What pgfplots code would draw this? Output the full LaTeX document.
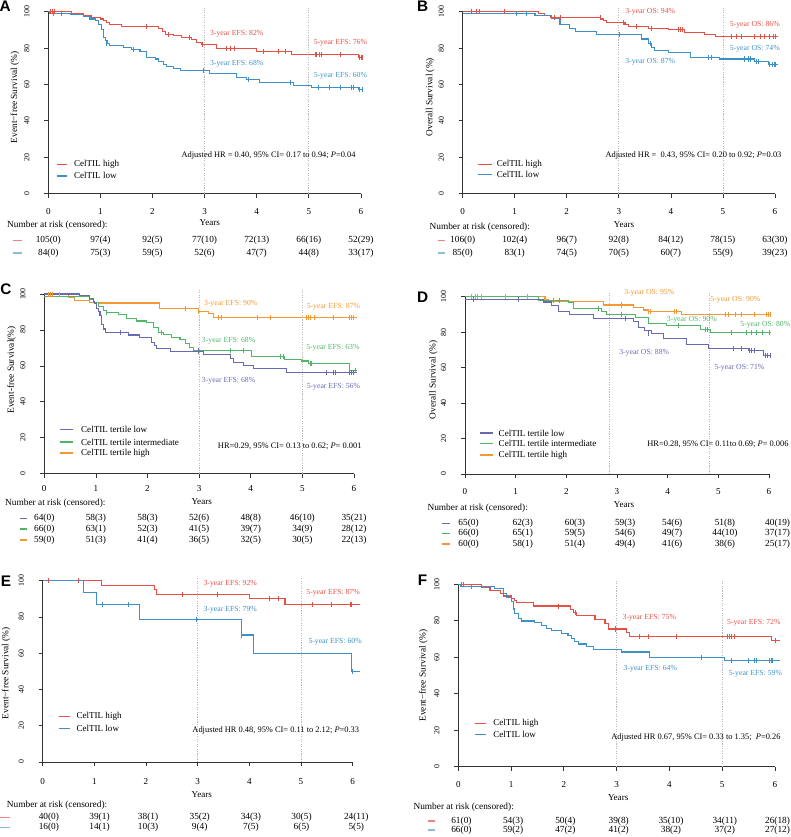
\documentclass[border=0pt]{standalone}
\usepackage{pgfplots}
\pgfplotsset{compat=1.18}
\usepackage{fontspec}
\setmainfont{Liberation Serif}
\newfontfamily\sansb{Liberation Sans}
\usetikzlibrary{calc}
\definecolor{kred}{RGB}{229,79,69}
\definecolor{kblue}{RGB}{62,145,198}
\definecolor{kpur}{RGB}{105,105,180}
\definecolor{kgreen}{RGB}{80,180,105}
\definecolor{korange}{RGB}{242,152,52}
\newcommand\ft[1]{\fontsize{#1}{#1}\selectfont}
\pgfplotsset{km/.style={
  scale only axis, anchor=south west, clip=false,
  xmin=0,xmax=6,ymin=0,ymax=100,
  axis x line*=bottom, axis y line*=left,
  axis line style={-, black!80, line width=0.5pt},
  xtick={0,...,6}, ytick={0,20,...,100},
  tick align=outside, major tick length=3pt, tick style={black!80, line width=0.5pt},
  /pgf/number format/assume math mode=true,
  xticklabel style={font=\ft{6.8}},
  yticklabel style={font=\ft{5.9}, rotate=90, anchor=south},
  every axis plot/.append style={line width=0.85pt},
}}
\tikzset{cens/.style={only marks, mark=|, mark size=1.9pt, mark options={line width=0.6pt}},
  ann/.style={font=\ft{5.8}, inner sep=0pt, anchor=west},
  hr/.style={font=\ft{6.3}, inner sep=0pt, anchor=east},
  leg/.style={font=\ft{6.8}, inner sep=0pt, anchor=west}}
\newcommand\riskrow[6]{%
  \draw[#3, line width=0.9pt] ($(#1.south west)+(#4pt,-#2pt)$) -- ++(#5pt,0);
  \foreach \x/\t in {#6}{\node[font=\ft{7}, inner sep=0pt] at ($(#1.south west)!\x/6!(#1.south east)+(0,-#2pt)$) {\t};}%
}
\newcommand\lgline[5]{\draw[draw=#2, line width=1.1pt] ($(#1.south west)+(#3pt,#5pt)$) -- ($(#1.south west)+(#4pt,#5pt)$);}
\newcommand\vlines[2]{%
  \addplot[gray!55, densely dotted, line width=0.5pt, forget plot] coordinates {(#1,0) (#1,102)};
  \addplot[gray!55, densely dotted, line width=0.5pt, forget plot] coordinates {(#2,0) (#2,102)};
}
\begin{document}
\begin{tikzpicture}
\path[use as bounding box] (0,0) rectangle (592.5pt,627.75pt);

% ---------------- Panel A
\begin{axis}[km, name=pA, at={(36.2pt,482.6pt)}, width=234.5pt, height=136.35pt, xticklabel shift=4.7pt, yticklabel shift=7.5pt]
\vlines{3}{5}
\addplot[kred, const plot] coordinates {(0,100) (0.45,99) (0.67,98) (0.83,97) (1.0,96) (1.06,95) (1.12,94) (1.18,93) (1.41,92) (2.11,91) (2.2,89) (2.25,87.5) (2.4,87) (2.56,86) (2.75,84.5) (2.85,83) (2.94,82) (3.23,80) (4.0,78) (4.67,76.5) (5.95,75) (6.04,75)};
\addplot[kred, cens] coordinates {(0.04,100)(0.08,100)(0.12,100)(1.89,92)(2.3,87.5)(2.7,86)(2.95,82)(3.42,80)(3.49,80)(3.58,80)(4.13,78)(4.41,78)(4.56,78)(5.12,76.5)(5.15,76.5)(5.2,76.5)(5.24,76.5)(5.6,76.5)(5.97,75)(6.0,75)(6.02,75)};
\addplot[kblue, const plot] coordinates {(0,100) (0.03,99) (0.42,98.5) (0.67,97.5) (0.8,96) (0.9,95) (0.96,93) (1.02,90) (1.06,86) (1.09,84) (1.13,82.5) (1.18,81.5) (1.44,80.5) (1.6,79) (1.76,78) (1.89,75) (2.05,74) (2.11,72.5) (2.21,71) (2.27,70) (2.4,69) (2.53,67.5) (3.1,66) (3.61,64) (3.81,62.5) (4.06,61) (4.7,59.5) (5.05,58.5) (5.95,57) (6.04,57)};
\addplot[kblue, cens] coordinates {(0.1,99)(0.26,99)(1.12,82.5)(1.63,79)(2.98,67.5)(3.84,62.5)(4.64,61)(5.18,58.5)(5.4,58.5)(5.6,58.5)(5.82,58.5)(5.85,58.5)(5.97,57)(6.02,57)};
\node[ann, kred] at (axis cs:3.1,88) {3-year EFS: 82\%};
\node[ann, kred] at (axis cs:5.09,83.1) {5-year EFS: 76\%};
\node[ann, kblue] at (axis cs:3.1,71.6) {3-year EFS: 68\%};
\node[ann, kblue] at (axis cs:5.09,64.6) {5-year EFS: 60\%};
\node[hr] at (axis cs:5.9,21.1) {Adjusted HR = 0.40, 95\% CI= 0.17 to 0.94; \textit{P}=0.04};
\node[leg] at (axis cs:0.49,16.1) {CelTIL high};
\node[leg] at (axis cs:0.49,9.7) {CelTIL low};
\node[rotate=90, font=\ft{7}] at ([xshift=-25pt]axis cs:0,53) {Event−free Survival (\%)};
\node[font=\ft{6.8}] at ([yshift=-22.1pt]axis cs:3.1,0) {Years};
\end{axis}
\lgline{pA}{kred}{6.25}{13.68}{21.95}
\lgline{pA}{kblue}{6.25}{13.68}{13.23}
\node[font=\ft{7}, inner sep=0pt, anchor=west] at ($(pA.south west)+(-31pt,-23.6pt)$) {Number at risk (censored):};
\riskrow{pA}{35.4}{kred!70}{-26.5}{6.8}{0/105(0),1/97(4),2/92(5),3/77(10),4/72(13),5/66(16),6/52(29)}
\riskrow{pA}{44.6}{kblue!60}{-26.5}{6.8}{0/84(0),1/75(3),2/59(5),3/52(6),4/47(7),5/44(8),6/33(17)}

% ---------------- Panel B
\begin{axis}[km, name=pB, at={(347.0pt,482.6pt)}, width=234.2pt, height=136.35pt, xticklabel shift=4.7pt, yticklabel shift=7.5pt]
\vlines{3}{5}
\addplot[kred, const plot] coordinates {(0,100) (1.45,99) (1.58,98) (1.68,97) (2.64,96) (2.7,95) (2.77,94) (3.12,93) (3.18,92) (3.57,91) (3.95,90) (4.27,88.6) (4.65,87.5) (4.85,86.5) (6.06,86.5)};
\addplot[kred, cens] coordinates {(0.17,100)(0.27,100)(0.33,100)(0.81,100)(1.77,97)(1.87,97)(2.64,97)(3.09,94)(3.34,92)(3.63,91)(4.14,90)(4.18,90)(4.22,90)(5.17,86.5)(5.26,86.5)(5.36,86.5)(5.61,86.5)(5.72,86.5)(5.8,86.5)(5.9,86.5)(5.97,86.5)(6.0,86.5)};
\addplot[kblue, const plot] coordinates {(0,99) (1.39,98) (1.71,96.5) (1.87,93) (2.06,91) (2.16,89) (2.57,87.5) (3.44,85) (3.57,82.5) (3.63,80.5) (3.69,78.5) (3.95,77.5) (4.37,75) (4.94,74) (5.61,72.5) (5.87,71) (6.06,71)};
\addplot[kblue, cens] coordinates {(1.04,99)(1.23,99)(3.02,87.5)(3.6,82.5)(4.72,75)(4.77,75)(5.42,74)(5.49,74)(5.52,74)(5.65,72.5)(5.68,72.5)(5.9,71)(5.95,71)(5.99,71)(6.01,71)};
\node[ann, kred] at (axis cs:3.12,100) {3-year OS: 94\%};
\node[ann, kred] at (axis cs:5.13,92.7) {5-year OS: 86\%};
\node[ann, kblue] at (axis cs:3.12,72.5) {3-year OS: 87\%};
\node[ann, kblue] at (axis cs:5.13,79.8) {5-year OS: 74\%};
\node[hr] at (axis cs:6.13,20.7) {Adjusted HR = \ 0.43, 95\% CI= 0.20 to 0.92; \textit{P}=0.03};
\node[leg] at (axis cs:0.65,16.1) {CelTIL high};
\node[leg] at (axis cs:0.65,10.4) {CelTIL low};
\node[rotate=90, font=\ft{7}] at ([xshift=-24.5pt]axis cs:0,53) {Overall Survival (\%)};
\node[font=\ft{6.8}] at ([yshift=-23.1pt]axis cs:3.1,0) {Years};
\end{axis}
\lgline{pB}{kred}{11.71}{21.86}{21.95}
\lgline{pB}{kblue}{11.71}{21.86}{14.18}
\node[font=\ft{7}, inner sep=0pt, anchor=west] at ($(pB.south west)+(-25pt,-25.6pt)$) {Number at risk (censored):};
\riskrow{pB}{35.4}{kred!70}{-18.5}{5.5}{0/106(0),1/102(4),2/96(7),3/92(8),4/84(12),5/78(15),6/63(30)}
\riskrow{pB}{44.6}{kblue!60}{-18.5}{5.5}{0/85(0),1/83(1),2/74(5),3/70(5),4/60(7),5/55(9),6/39(23)}

% ---------------- Panel C
\begin{axis}[km, name=pC, at={(33.2pt,272.6pt)}, width=232.3pt, height=134.6pt, xticklabel shift=2.2pt, yticklabel shift=7.5pt]
\vlines{3}{5}
\addplot[korange, const plot] coordinates {(0,100)(0.47,98)(0.59,96.5)(0.88,95.5)(1.08,95)(2.23,92)(2.98,90.5)(3.18,89)(3.28,86.8)(6.05,86.8)};
\addplot[korange, cens] coordinates {(0.08,100)(0.12,100)(0.15,100)(0.29,100)(2.73,92)(2.98,90.5)(3.37,86.8)(3.43,86.8)(4.13,86.8)(4.39,86.8)(5.08,86.8)(5.12,86.8)(5.15,86.8)(5.23,86.8)(5.6,86.8)(5.92,86.8)(5.95,86.8)(5.99,86.8)};
\addplot[kgreen, const plot] coordinates {(0,98.5)(0.88,97)(0.95,95.5)(1.05,93)(1.14,91)(1.21,89.5)(1.43,88.5)(1.6,86.4)(1.79,85)(1.98,84)(2.11,81.3)(2.21,78.5)(2.31,77.4)(2.47,76)(2.63,74.6)(2.73,72.4)(2.82,70)(2.89,68.5)(4.02,65)(4.66,63.4)(4.99,62.7)(5.12,61.2)(5.92,57.5)(6.05,57.5)};
\addplot[kgreen, cens] coordinates {(1.21,89.5)(2.27,78.5)(2.98,68.5)(3.6,68.5)(3.86,68.5)(4.57,65)(4.63,65)(5.15,61.2)(5.18,61.2)(6.02,57.5)};
\addplot[kpur, const plot] coordinates {(0,100)(0.69,99)(0.88,97.5)(0.95,96)(0.98,94.5)(1.01,92)(1.05,90.5)(1.08,88)(1.11,83)(1.14,80.5)(1.18,78.5)(1.63,77.2)(1.85,76)(2.08,72.8)(2.14,71.5)(2.18,69.6)(2.44,68)(3.08,66.4)(3.6,64.2)(3.66,62.1)(3.86,60.3)(4.05,58.4)(4.7,56.5)(6.05,56.5)};
\addplot[kpur, cens] coordinates {(1.47,78.5)(2.98,68)(5.47,56.5)(5.6,56.5)(5.63,56.5)(5.92,56.5)(5.95,56.5)(5.99,56.5)};
\node[ann, korange] at (axis cs:3.09,94.8) {3-year EFS: 90\%};
\node[ann, korange] at (axis cs:5.08,92.9) {5-year EFS: 87\%};
\node[ann, kgreen] at (axis cs:3.05,73.9) {3-year EFS: 68\%};
\node[ann, kgreen] at (axis cs:5.07,70.1) {5-year EFS: 63\%};
\node[ann, kpur] at (axis cs:3.05,51.9) {3-year EFS: 68\%};
\node[ann, kpur] at (axis cs:5.08,48.5) {5-year EFS: 56\%};
\node[hr] at (axis cs:6.15,14.9) {HR=0.29, 95\% CI= 0.13 to 0.62; \textit{P}= 0.001};
\node[leg] at (axis cs:0.71,24.6) {CelTIL tertile low};
\node[leg] at (axis cs:0.71,17.5) {CelTIL tertile intermediate};
\node[leg] at (axis cs:0.71,11.4) {CelTIL tertile high};
\node[rotate=90, font=\ft{7}] at ([xshift=-24.5pt]axis cs:0,57.7) {Event-free Survival(\%)};
\node[font=\ft{6.8}] at ([yshift=-21.1pt]axis cs:3.05,0) {Years};
\end{axis}
\lgline{pC}{kpur}{11.62}{21.3}{33.11}
\lgline{pC}{kgreen}{11.62}{21.3}{23.56}
\lgline{pC}{korange}{11.62}{21.3}{15.34}
\node[font=\ft{7}, inner sep=0pt, anchor=west] at ($(pC.south west)+(-29.5pt,-22.4pt)$) {Number at risk (censored):};
\riskrow{pC}{33.6}{kpur}{-18.2}{5}{0/64(0),1/58(3),2/58(3),3/52(6),4/48(8),5/46(10),6/35(21)}
\riskrow{pC}{41.6}{kgreen}{-18.2}{5}{0/66(0),1/63(1),2/52(3),3/41(5),4/39(7),5/34(9),6/28(12)}
\riskrow{pC}{49.9}{korange}{-18.2}{5}{0/59(0),1/51(3),2/41(4),3/36(5),4/32(5),5/30(5),6/22(13)}

% ---------------- Panel D
\begin{axis}[km, name=pD, at={(348.75pt,272.25pt)}, width=228pt, height=133pt, xticklabel shift=4.3pt, yticklabel shift=7.5pt]
\vlines{2.84}{4.82}
\addplot[korange, const plot] coordinates {(0,100)(1.58,98.5)(1.64,97.2)(2.73,95.3)(3.32,94)(3.52,92.5)(3.62,91.4)(4.28,90)(6.03,90)};
\addplot[korange, cens] coordinates {(0.13,100)(0.2,100)(0.25,100)(0.32,100)(0.79,100)(1.24,100)(3.09,95.3)(3.62,91.4)(3.65,91.4)(4.14,91.4)(4.18,91.4)(5.13,90)(5.2,90)(5.33,90)(5.46,90)(5.72,90)(5.95,90)(5.99,90)(6.03,90)};
\addplot[kgreen, const plot] coordinates {(0,100)(1.45,98)(2.04,96.5)(2.14,93.5)(2.7,91.8)(2.8,90)(3.36,88.4)(3.62,85)(3.98,83.7)(4.64,81.6)(4.84,79.8)(6.03,79.8)};
\addplot[kgreen, cens] coordinates {(1.74,98)(1.87,98)(2.63,93.5)(3.09,90)(4.21,83.7)(4.74,81.6)(4.78,81.6)(5.26,79.8)(5.56,79.8)(5.66,79.8)(5.76,79.8)(5.86,79.8)(6.0,79.8)};
\addplot[kpur, const plot] coordinates {(0,98.5)(1.55,97)(1.71,95)(1.84,91.5)(2.07,89.7)(2.53,87.5)(3.32,86)(3.42,82.8)(3.55,81)(3.68,79)(3.91,76.5)(4.38,72.8)(4.8,70.9)(5.59,69.5)(5.89,66.8)(6.03,66.8)};
\addplot[kpur, cens] coordinates {(0.16,98.5)(1.05,98.5)(3.16,87.5)(3.62,79)(5.3,70.9)(5.46,70.9)(5.62,69.5)(5.66,69.5)(5.72,69.5)(5.92,66.8)(5.97,66.8)(6.03,66.8)};
\node[ann, korange] at (axis cs:3.14,102.4) {3-year OS: 95\%};
\node[ann, korange] at (axis cs:4.84,98.5) {5-year OS: 90\%};
\node[ann, kgreen] at (axis cs:3.98,87.2) {3-year OS: 90\%};
\node[ann, kgreen] at (axis cs:5.43,84.4) {5-year OS: 80\%};
\node[ann, kpur] at (axis cs:3.04,68.5) {3-year OS: 88\%};
\node[ann, kpur] at (axis cs:4.92,60) {5-year OS: 71\%};
\node[hr] at (axis cs:6.39,16.9) {HR=0.28, 95\% CI= 0.11to 0.69; \textit{P}= 0.006};
\node[leg] at (axis cs:0.66,23.1) {CelTIL tertile low};
\node[leg] at (axis cs:0.66,17.1) {CelTIL tertile intermediate};
\node[leg] at (axis cs:0.66,10.7) {CelTIL tertile high};
\node[rotate=90, font=\ft{7}] at ([xshift=-23.8pt]axis cs:0,53) {Overall Survival (\%)};
\node[font=\ft{6.8}] at ([yshift=-23.25pt]axis cs:3.14,0) {Years};
\end{axis}
\lgline{pD}{kpur}{11.4}{21.28}{30.72}
\lgline{pD}{kgreen}{11.4}{21.28}{22.74}
\lgline{pD}{korange}{11.4}{21.28}{14.23}
\node[font=\ft{7}, inner sep=0pt, anchor=west] at ($(pD.south west)+(-28.3pt,-25.7pt)$) {Number at risk (censored):};
\riskrow{pD}{37}{kpur}{-17.5}{6.2}{0.07/65(0),1.14/62(3),2.17/60(3),3.16/59(3),4.09/54(6),5.13/51(8),6.17/40(19)}
\riskrow{pD}{44.5}{kgreen}{-17.5}{6.2}{0.07/66(0),1.14/65(1),2.17/59(5),3.16/54(6),4.09/49(7),5.13/44(10),6.17/37(17)}
\riskrow{pD}{52.5}{korange}{-17.5}{6.2}{0.07/60(0),1.14/58(1),2.17/51(4),3.16/49(4),4.09/41(6),5.13/38(6),6.17/25(17)}

% ---------------- Panel E
\begin{axis}[km, name=pE, at={(32pt,56.25pt)}, width=232.5pt, height=136pt, xticklabel shift=5.8pt, yticklabel shift=7.5pt]
\vlines{3}{5}
\addplot[kred, const plot] coordinates {(0,100)(1.14,97.5)(2.17,95)(2.21,92.5)(4.01,90)(4.69,87)(6.15,87)};
\addplot[kred, cens] coordinates {(0.11,100)(0.69,100)(2.71,92.5)(3.38,92.5)(4.39,90)(4.56,90)(5.23,87)(5.59,87)(5.95,87)(5.97,87)};
\addplot[kblue, const plot] coordinates {(0,100)(0.79,93.3)(1.05,86.7)(1.88,78.8)(3.85,70)(4.08,60)(5.98,50)(6.14,50)};
\addplot[kblue, cens] coordinates {(1.15,86.7)(1.65,86.7)(2.98,78.8)(3.85,70)(6.0,50)};
\node[ann, kred] at (axis cs:3.11,98.2) {3-year EFS: 92\%};
\node[ann, kred] at (axis cs:5.1,93.6) {5-year EFS: 87\%};
\node[ann, kblue] at (axis cs:3.11,83.8) {3-year EFS: 79\%};
\node[ann, kblue] at (axis cs:5.14,66.4) {5-year EFS: 60\%};
\node[hr] at (axis cs:6.13,17.3) {Adjusted HR 0.48, 95\% CI= 0.11 to 2.12; \textit{P}=0.33};
\node[leg] at (axis cs:0.65,25) {CelTIL high};
\node[leg] at (axis cs:0.65,18.6) {CelTIL low};
\node[rotate=90, font=\ft{7}] at ([xshift=-27.5pt]axis cs:0,49) {Event−free Survival (\%)};
\node[font=\ft{6.8}] at ([yshift=-24.75pt]axis cs:3.08,0) {Years};
\end{axis}
\lgline{pE}{kred}{12.4}{20.15}{34}
\lgline{pE}{kblue}{12.4}{20.15}{25.3}
\node[font=\ft{7}, inner sep=0pt, anchor=west] at ($(pE.south west)+(-27pt,-32.25pt)$) {Number at risk (censored):};
\riskrow{pE}{41.8}{kred!70}{-32}{7.5}{0.12/40(0),1.1/39(1),2.04/38(1),3.04/35(2),4.03/34(3),5.01/30(5),6.07/24(11)}
\riskrow{pE}{49.3}{kblue!60}{-32}{7.5}{0.12/16(0),1.1/14(1),2.04/10(3),3.04/9(4),4.03/7(5),5.01/6(5),6.07/5(5)}

% ---------------- Panel F
\begin{axis}[km, name=pF, at={(343.7pt,52.7pt)}, width=237.5pt, height=136.8pt, xticklabel shift=4.3pt, yticklabel shift=7.5pt]
\vlines{3}{5}
\addplot[kred, const plot] coordinates {(0,100)(0.44,98.4)(0.6,96.8)(0.8,95.2)(0.85,93.6)(1.01,92)(1.07,91)(1.1,89.9)(1.42,88.1)(2.12,86.3)(2.18,84.5)(2.24,82.8)(2.59,80.8)(2.78,78.6)(2.84,75.5)(3.19,73.5)(3.25,71.5)(5.94,69.1)(6.1,69.1)};
\addplot[kred, cens] coordinates {(0.06,100)(0.09,100)(1.9,88.1)(2.21,84.5)(2.97,75.5)(3.44,71.5)(3.6,71.5)(4.14,71.5)(5.1,71.5)(5.13,71.5)(5.17,71.5)(5.24,71.5)(6.0,69.1)};
\addplot[kblue, const plot] coordinates {(0,100)(0.05,98.8)(0.69,97.5)(0.85,95)(0.92,93)(1.01,90.5)(1.04,86.5)(1.07,84)(1.14,81.5)(1.2,79.9)(1.45,79)(1.58,77.5)(1.67,76)(1.77,74.5)(1.96,73)(2.08,71.8)(2.15,70.3)(2.21,68.7)(2.27,67.3)(2.43,66)(2.56,64.4)(3.1,62.9)(3.63,59.8)(5.05,58.1)(6.1,58.1)};
\addplot[kblue, cens] coordinates {(0.25,98.8)(4.61,59.8)(5.18,58.1)(5.5,58.1)(5.62,58.1)(5.65,58.1)(5.9,58.1)(5.93,58.1)(5.96,58.1)};
\node[ann, kred] at (axis cs:3.11,81.4) {3-year EFS: 75\%};
\node[ann, kred] at (axis cs:5.09,79) {5-year EFS: 72\%};
\node[ann, kblue] at (axis cs:3.13,53.9) {3-year EFS: 64\%};
\node[ann, kblue] at (axis cs:5.12,51.2) {5-year EFS: 59\%};
\node[hr] at (axis cs:6.11,16.3) {Adjusted HR 0.67, 95\% CI= 0.33 to 1.35; \ \textit{P}=0.26};
\node[leg] at (axis cs:0.66,23.8) {CelTIL high};
\node[leg] at (axis cs:0.66,17.7) {CelTIL low};
\node[rotate=90, font=\ft{7}] at ([xshift=-26.25pt]axis cs:0,50) {Event−free Survival (\%)};
\node[font=\ft{6.8}] at ([yshift=-23.5pt]axis cs:3.03,0) {Years};
\end{axis}
\lgline{pF}{kred}{12.67}{20.58}{32.56}
\lgline{pF}{kblue}{12.67}{20.58}{24.21}
\node[font=\ft{7}, inner sep=0pt, anchor=west] at ($(pF.south west)+(-33.75pt,-30.75pt)$) {Number at risk (censored):};
\riskrow{pF}{40.7}{kred!70}{-22.5}{5}{0.06/61(0),1.04/54(3),2.03/50(4),3.04/39(8),4.03/35(10),5.05/34(11),6.05/26(18)}
\riskrow{pF}{47.5}{kblue!60}{-22.5}{5}{0.06/66(0),1.04/59(2),2.03/47(2),3.04/41(2),4.03/38(2),5.05/37(2),6.05/27(12)}

% panel letters
\node[font=\sansb\bfseries\ft{11.5}] at (3.9pt,623.25pt) {A};
\node[font=\sansb\bfseries\ft{11.5}] at (316.9pt,623.25pt) {B};
\node[font=\sansb\bfseries\ft{11.5}] at (4.5pt,411pt) {C};
\node[font=\sansb\bfseries\ft{11.5}] at (316.9pt,404.6pt) {D};
\node[font=\sansb\bfseries\ft{11.5}] at (4.5pt,192pt) {E};
\node[font=\sansb\bfseries\ft{11.5}] at (316.9pt,192.75pt) {F};
\end{tikzpicture}
\end{document}
